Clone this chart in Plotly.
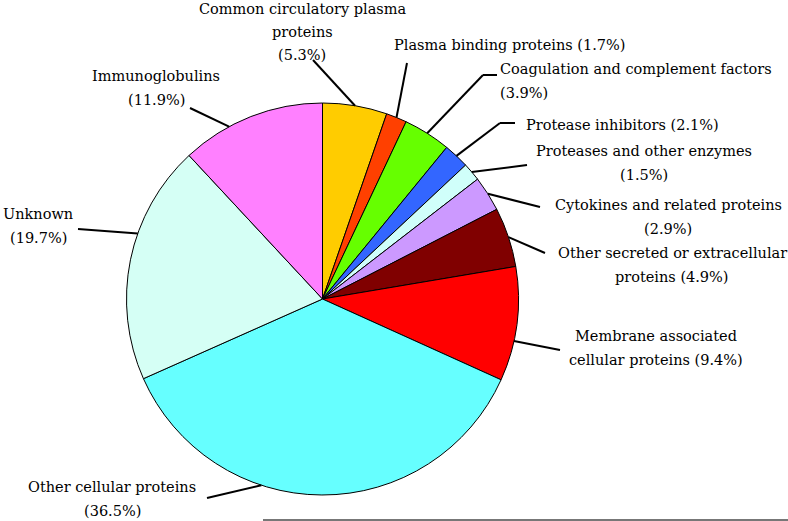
import math
import plotly.graph_objects as go

# ---------------------------------------------------------------------------
# Data
# ---------------------------------------------------------------------------
categories = [
    "Common circulatory plasma proteins",
    "Plasma binding proteins",
    "Coagulation and complement factors",
    "Protease inhibitors",
    "Proteases and other enzymes",
    "Cytokines and related proteins",
    "Other secreted or extracellular proteins",
    "Membrane associated cellular proteins",
    "Other cellular proteins",
    "Unknown",
    "Immunoglobulins",
]
shares = [5.3, 1.7, 3.9, 2.1, 1.5, 2.9, 4.9, 9.4, 36.5, 19.7, 11.9]
label_texts = [
    "Common circulatory plasma<br>proteins<br>(5.3%)",
    "Plasma binding proteins (1.7%)",
    "Coagulation and complement factors<br>(3.9%)",
    "Protease inhibitors (2.1%)",
    "Proteases and other enzymes<br>(1.5%)",
    "Cytokines and related proteins<br>(2.9%)",
    "Other secreted or extracellular<br>proteins (4.9%)",
    "Membrane associated<br>cellular proteins (9.4%)",
    "Other cellular proteins<br>(36.5%)",
    "Unknown<br>(19.7%)",
    "Immunoglobulins<br>(11.9%)",
]

# ---------------------------------------------------------------------------
# Styling / placement (pixels in the 788x521 canvas)
# ---------------------------------------------------------------------------
W, H = 788, 521
CX, CY, R = 322.5, 299, 196
FONT = "DejaVu Serif"
FONT_SIZE = 14.5
LINE_GAP = 23.5
colors = ["#FFCC00", "#FF4000", "#66FF00", "#3366FF", "#D0FFFA", "#CC99FF",
          "#800000", "#FF0000", "#66FFFF", "#D5FFF5", "#FF80FF"]
# label anchor (x, y of block centre, xanchor)
label_pos = [
    (302, 32, "center"),
    (509, 45, "center"),
    (498, 81, "left"),
    (524, 125, "left"),
    (644, 163, "center"),
    (668, 217, "center"),
    (672, 265, "center"),
    (656, 348, "center"),
    (112, 499, "center"),
    (38, 226, "center"),
    (156, 88, "center"),
]
leader_start = [(313, 60), (407, 63), (497, 75), (515, 123), (527, 165),
                (540, 207), (545, 253), (560, 350), (207, 498), (78, 229),
                (190, 108)]
leader_kink = [None, None, (483, 75), (500, 123), None, None, None, None,
               None, None, None]
angle_tweak = [0, 0, 0, 0, 0, 0, 0, 5, 18, 8, -7]


def px(x, y):
    return x / W, 1 - y / H


fig = go.Figure(go.Pie(
    labels=categories, values=shares, sort=False, direction="clockwise",
    rotation=0, textinfo="none", hoverinfo="label+percent",
    marker=dict(colors=colors, line=dict(color="black", width=1)),
    domain=dict(x=[(CX - R) / W, (CX + R) / W],
                y=[1 - (CY + R) / H, 1 - (CY - R) / H]),
    showlegend=False,
))

total = sum(shares)
cum = 0.0
shapes = []
annotations = []
for i, v in enumerate(shares):
    mid = (cum + v / 2) / total * 360 + angle_tweak[i]
    cum += v
    ex = CX + R * math.sin(math.radians(mid))
    ey = CY - R * math.cos(math.radians(mid))
    sx, sy = leader_start[i]
    pts = [(sx, sy)]
    if leader_kink[i]:
        pts.append(leader_kink[i])
    pts.append((ex, ey))
    for (x0, y0), (x1, y1) in zip(pts[:-1], pts[1:]):
        a0, b0 = px(x0, y0)
        a1, b1 = px(x1, y1)
        shapes.append(dict(type="line", xref="paper", yref="paper",
                           x0=a0, y0=b0, x1=a1, y1=b1,
                           line=dict(color="black", width=2)))
    # one annotation per text line, so the line spacing matches
    lx, ly, xa = label_pos[i]
    lines = label_texts[i].split("<br>")
    y_first = ly - LINE_GAP * (len(lines) - 1) / 2
    for k, line in enumerate(lines):
        ax_, ay_ = px(lx, y_first + k * LINE_GAP)
        annotations.append(dict(
            x=ax_, y=ay_, xref="paper", yref="paper", text=line,
            showarrow=False, xanchor=xa, yanchor="middle", align=xa,
            font=dict(family=FONT, size=FONT_SIZE, color="black"),
        ))

# thin grey rule at the bottom edge
a0, b0 = px(263, 520)
a1, b1 = px(788, 520)
shapes.append(dict(type="line", xref="paper", yref="paper",
                   x0=a0, y0=b0, x1=a1, y1=b1,
                   line=dict(color="#777777", width=2)))

fig.update_layout(
    width=W, height=H, margin=dict(l=0, r=0, t=0, b=0),
    paper_bgcolor="white", plot_bgcolor="white",
    font=dict(family=FONT),
    shapes=shapes, annotations=annotations,
)
fig.write_html("out.html", config={"displayModeBar": False},
               post_script="document.body.style.margin='0';")
